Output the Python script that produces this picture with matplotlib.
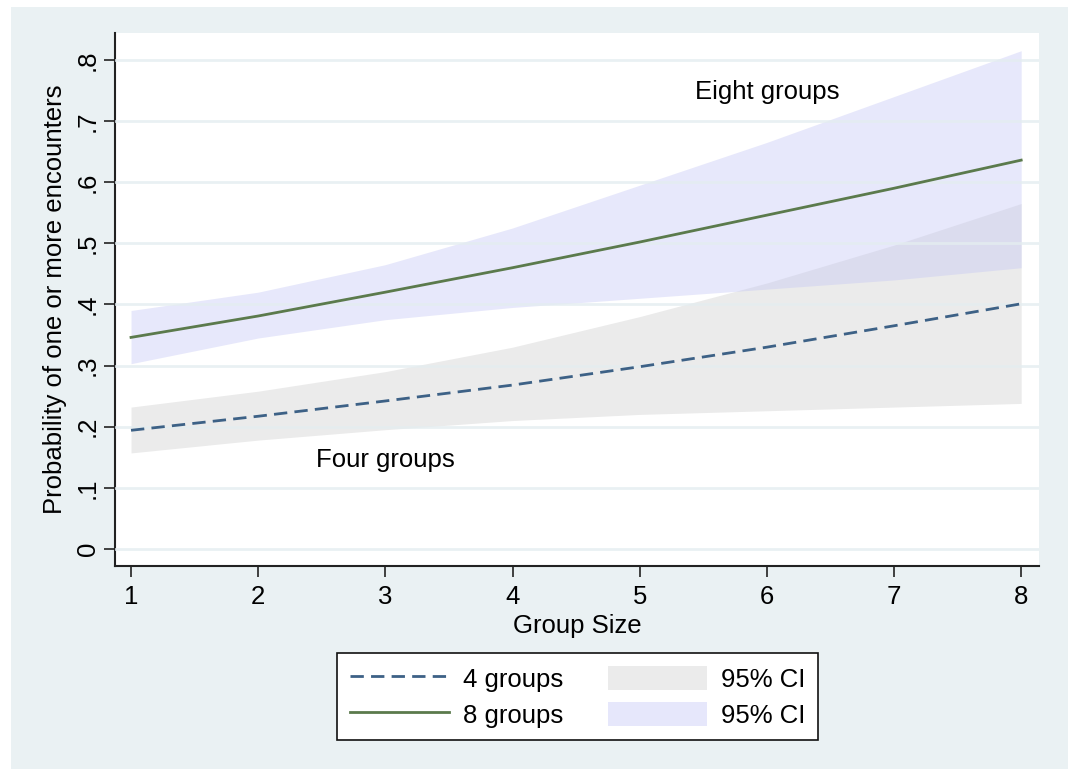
import matplotlib.pyplot as plt
from matplotlib.patches import Rectangle, Patch
from matplotlib.lines import Line2D

plt.rcParams['font.family'] = ['Liberation Sans', 'DejaVu Sans']

group_size = [1, 2, 3, 4, 5, 6, 7, 8]
p4 = [0.194, 0.217, 0.242, 0.268, 0.298, 0.330, 0.365, 0.401]
p4_lo = [0.157, 0.178, 0.195, 0.210, 0.220, 0.226, 0.232, 0.238]
p4_hi = [0.232, 0.258, 0.290, 0.330, 0.380, 0.435, 0.497, 0.565]
p8 = [0.346, 0.381, 0.420, 0.460, 0.502, 0.546, 0.590, 0.636]
p8_lo = [0.303, 0.345, 0.375, 0.395, 0.410, 0.425, 0.440, 0.460]
p8_hi = [0.390, 0.420, 0.465, 0.525, 0.595, 0.665, 0.740, 0.815]
yticks = [0, 0.1, 0.2, 0.3, 0.4, 0.5, 0.6, 0.7, 0.8]
ytick_labels = ['0', '.1', '.2', '.3', '.4', '.5', '.6', '.7', '.8']

bg = '#EAF1F3'
grid_c = '#E4EDF0'
navy = '#3D6186'
green = '#5B7A4C'
gray_ci = '#EBEBEB'
blue_ci = '#E6E7FB'
dash = (4.8, 2.6)

fs = 18.5

fig = plt.figure(figsize=(10.68, 7.69), dpi=100, facecolor='white')
fig.patches.append(Rectangle((11 / 1068, 0), 1 - 11 / 1068, 1 - 7 / 769,
                             transform=fig.transFigure, facecolor=bg,
                             edgecolor='none', zorder=-10))
ax = fig.add_axes([115 / 1068, 1 - 566 / 769, (1039 - 115) / 1068, (566 - 33) / 769])
ax.set_facecolor('white')

ax.set_xlim(0.874, 8.14)
ax.set_ylim(-0.028, 0.844)

ax.fill_between(group_size, p4_lo, p4_hi, color=gray_ci, lw=0, zorder=2)
ax.fill_between(group_size, p8_lo, p8_hi, color='#C4C6F5', alpha=0.4, lw=0, zorder=3)
for y in yticks:
    ax.axhline(y, color=grid_c, lw=2, alpha=0.8, zorder=3.5)
ax.plot(group_size, p4, color=navy, lw=2, dashes=dash, zorder=4)
ax.plot(group_size, p8, color=green, lw=2, zorder=4)

ax.text(6.0, 0.748, 'Eight groups', fontsize=fs, ha='center', va='center')
ax.text(3.0, 0.146, 'Four groups', fontsize=fs, ha='center', va='center')

ax.set_xticks(group_size)
ax.set_yticks(yticks)
ax.set_yticklabels(ytick_labels, rotation=90, va='center')
ax.tick_params(axis='both', labelsize=fs, length=8, width=1.2, color='#222222', pad=6)
ax.tick_params(axis='y', pad=3)
for s in ['top', 'right']:
    ax.spines[s].set_visible(False)
for s in ['left', 'bottom']:
    ax.spines[s].set_linewidth(1.5)
    ax.spines[s].set_color('#222222')

ax.set_xlabel('Group Size', fontsize=fs, labelpad=3)
ax.set_ylabel('Probability of one or more encounters', fontsize=fs, labelpad=6)

handles = [
    Line2D([], [], color=navy, lw=2, dashes=dash),
    Line2D([], [], color=green, lw=2),
    Patch(facecolor=gray_ci, edgecolor='none'),
    Patch(facecolor=blue_ci, edgecolor='none'),
]
labels = ['4 groups', '8 groups', '95% CI', '95% CI']
leg = fig.legend(handles, labels, ncol=2, loc='center',
                 bbox_to_anchor=(0.541, 0.094), fontsize=fs,
                 handlelength=3.85, handleheight=1.05, handletextpad=0.55,
                 columnspacing=1.75, labelspacing=0.4, borderpad=0.5,
                 fancybox=False, frameon=True)
leg.get_frame().set_edgecolor('#111111')
leg.get_frame().set_linewidth(1.2)
leg.get_frame().set_facecolor('white')
leg.get_frame().set_alpha(1)

plt.savefig('out.png', dpi=100, facecolor=fig.get_facecolor())
